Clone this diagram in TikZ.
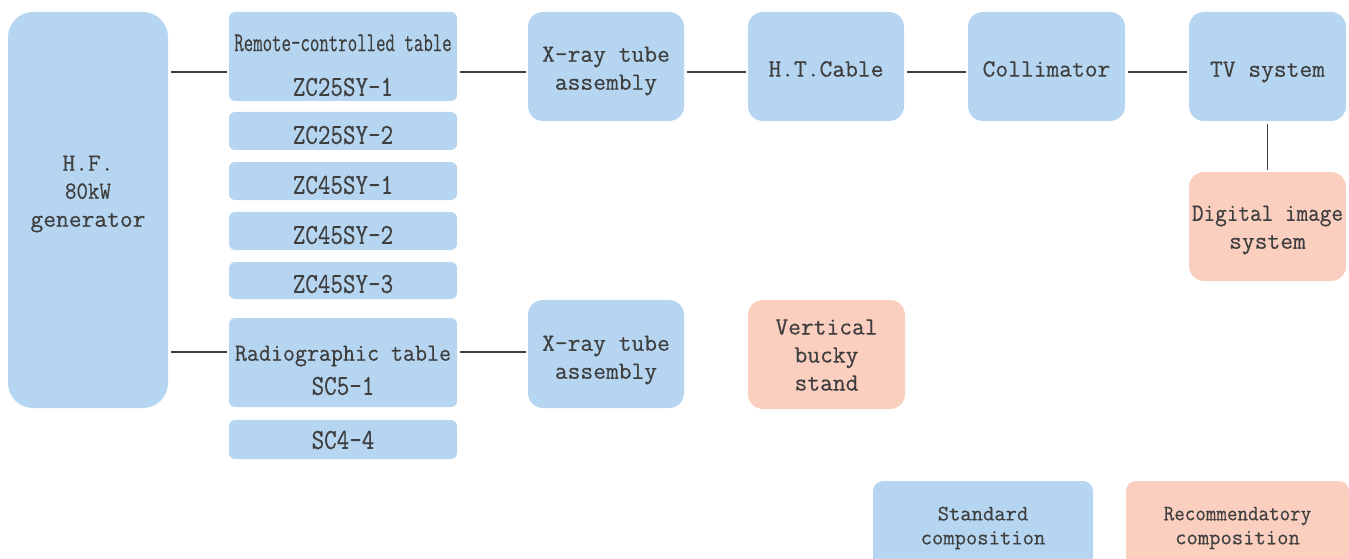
\documentclass[tikz,border=0pt]{standalone}
\usepackage{graphicx}
\usepackage{fontspec}
\setmonofont[FakeBold=0.4]{Latin Modern Mono}
\definecolor{boxblue}{RGB}{182,213,240}
\definecolor{boxpink}{RGB}{250,207,192}
\definecolor{txtgray}{RGB}{62,62,62}
\definecolor{linegray}{RGB}{64,64,64}
\begin{document}
\begin{tikzpicture}[x=1pt,y=-1pt,
  box/.style={fill=boxblue, draw=none, inner sep=0pt, outer sep=0pt, rectangle},
  pinkbox/.style={box, fill=boxpink},
  txt/.style={text=txtgray, font=\ttfamily\fontsize{24.8}{28}\selectfont, align=center, inner sep=0pt},
  ztxt/.style={txt, font=\ttfamily\fontsize{29}{28}\selectfont},
  legtxt/.style={txt, font=\ttfamily\fontsize{22}{24}\selectfont},
  conn/.style={draw=linegray, line width=1.5pt, shorten <=3pt, shorten >=2pt}]
\useasboundingbox (0,0) rectangle (1349,559);
\clip (0,0) rectangle (1349,559);
\coordinate (row1) at (0,72);
\coordinate (row2) at (0,352);
% boxes
\node[box, rounded corners=25pt, minimum width=160pt, minimum height=396pt] (gen) at (88,210) {};
\node[box, rounded corners=6pt, minimum width=228pt, minimum height=89pt] (tab1) at (343,56.5) {};
\node[box, rounded corners=6pt, minimum width=228pt, minimum height=38pt] (tab2) at (343,131) {};
\node[box, rounded corners=6pt, minimum width=228pt, minimum height=38pt] (tab3) at (343,181) {};
\node[box, rounded corners=6pt, minimum width=228pt, minimum height=38pt] (tab4) at (343,231) {};
\node[box, rounded corners=6pt, minimum width=228pt, minimum height=37pt] (tab5) at (343,280.5) {};
\node[box, rounded corners=6pt, minimum width=228pt, minimum height=89pt] (rad) at (343,362.5) {};
\node[box, rounded corners=6pt, minimum width=228pt, minimum height=39pt] (sc44) at (343,439.5) {};
\node[box, rounded corners=15pt, minimum width=156pt, minimum height=109pt] (xr1) at (606,66.5) {};
\node[box, rounded corners=15pt, minimum width=156pt, minimum height=109pt] (ht) at (826,66.5) {};
\node[box, rounded corners=15pt, minimum width=157pt, minimum height=109pt] (col) at (1046.5,66.5) {};
\node[box, rounded corners=15pt, minimum width=157pt, minimum height=109pt] (tv) at (1267.5,66.5) {};
\node[pinkbox, rounded corners=15pt, minimum width=157pt, minimum height=109pt] (dig) at (1267.5,226.5) {};
\node[box, rounded corners=15pt, minimum width=156pt, minimum height=108pt] (xr2) at (606,354) {};
\node[pinkbox, rounded corners=15pt, minimum width=157pt, minimum height=109pt] (vbs) at (826.5,354.5) {};
\node[box, rounded corners=10pt, minimum width=220pt, minimum height=98pt] (std) at (983,530) {};
\node[pinkbox, rounded corners=10pt, minimum width=223pt, minimum height=98pt] (rec) at (1237.5,530) {};
% texts
\node[txt] (gen-t) at (88,194) {H.F.\\\scalebox{0.9}[1]{80kW}\\generator};
\node[txt] (tab1-a) at (343,43) {\scalebox{0.74}[1.1]{Remote-controlled table}};
\node[ztxt] (tab1-b) at (343,87) {\scalebox{0.84}[1]{ZC25SY-1}};
\node[ztxt] (tab2-t) at (343,135) {\scalebox{0.84}[1]{ZC25SY-2}};
\node[ztxt] (tab3-t) at (343,185) {\scalebox{0.84}[1]{ZC45SY-1}};
\node[ztxt] (tab4-t) at (343,235) {\scalebox{0.84}[1]{ZC45SY-2}};
\node[ztxt] (tab5-t) at (343,284) {\scalebox{0.84}[1]{ZC45SY-3}};
\node[txt] (rad-a) at (343,356) {\scalebox{0.94}[1]{Radiographic table}};
\node[ztxt] (rad-b) at (343,386) {\scalebox{0.84}[1]{SC5-1}};
\node[ztxt] (sc44-t) at (343,440) {\scalebox{0.84}[1]{SC4-4}};
\node[txt] (xr1-t) at (606,71) {X-ray tube\\assembly};
\node[txt] (ht-t) at (826,69) {H.T.Cable};
\node[txt] (col-t) at (1046.5,69) {Collimator};
\node[txt] (tv-t) at (1267.5,72) {TV system};
\node[txt] (dig-t) at (1267.5,230) {\scalebox{0.91}[1]{Digital image}\\system};
\node[txt] (xr2-t) at (606,360) {X-ray tube\\assembly};
\node[txt] (vbs-t) at (826.5,355) {Vertical\\bucky\\stand};
\node[legtxt] (std-t) at (983,528) {Standard\\composition};
\node[legtxt] (rec-t) at (1237.5,528) {\scalebox{0.93}[1]{Recommendatory}\\composition};
% connectors
\draw[conn] (gen.east |- row1) -- (tab1.west |- row1);
\draw[conn] (tab1.east |- row1) -- (xr1.west |- row1);
\draw[conn] (xr1.east |- row1) -- (ht.west |- row1);
\draw[conn] (ht.east |- row1) -- (col.west |- row1);
\draw[conn] (col.east |- row1) -- (tv.west |- row1);
\draw[conn] (tv.south) -- (dig.north);
\draw[conn] (gen.east |- row2) -- (rad.west |- row2);
\draw[conn] (rad.east |- row2) -- (xr2.west |- row2);
\end{tikzpicture}
\end{document}
